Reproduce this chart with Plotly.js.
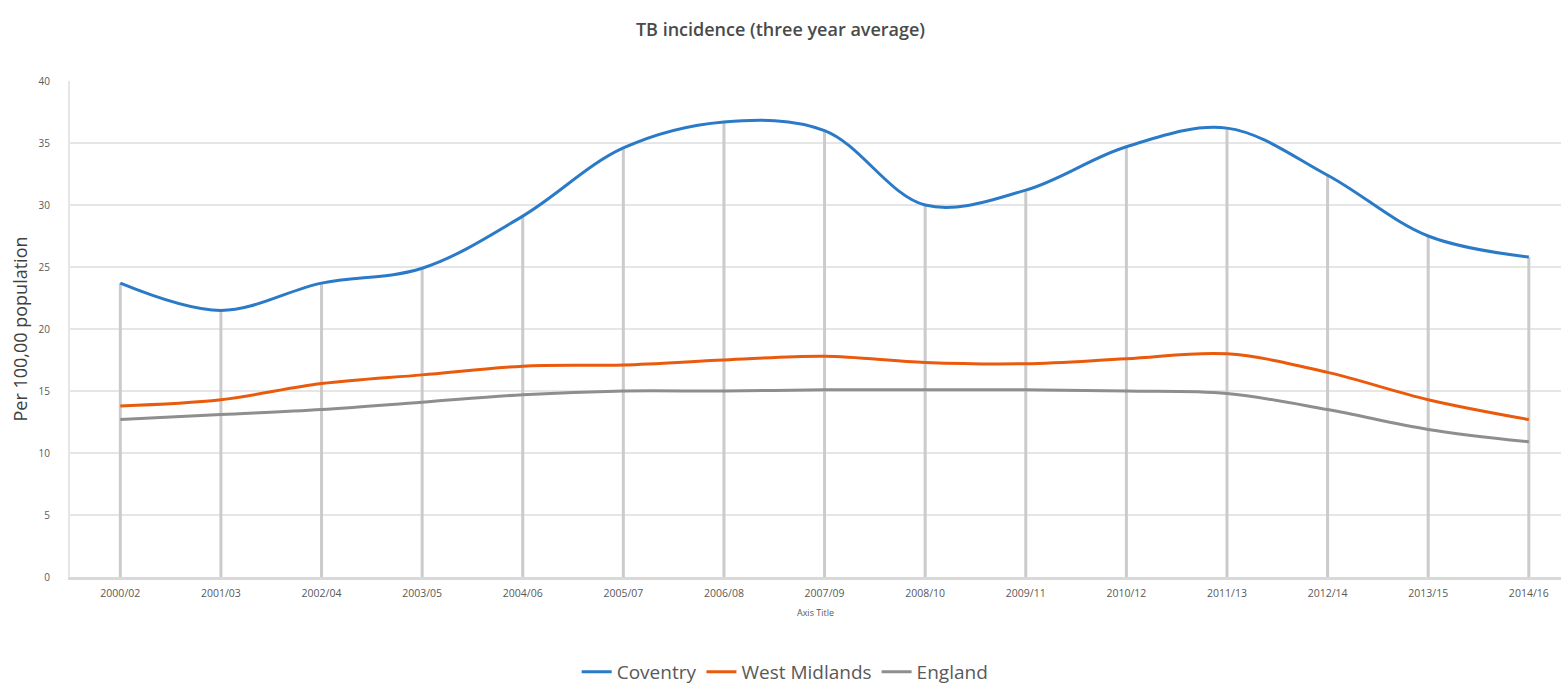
<!DOCTYPE html>
<html>
<head>
<meta charset="utf-8">
<script src="https://cdn.plot.ly/plotly-3.0.1.min.js"></script>
<style>
  html, body { margin: 0; padding: 0; background: #ffffff; }
  #chart { width: 1561px; height: 687px; }
</style>
</head>
<body>
<div id="chart"></div>
<script>
// Three-year rolling periods
const periods = ["2000/02", "2001/03", "2002/04", "2003/05", "2004/06", "2005/07", "2006/08",
                 "2007/09", "2008/10", "2009/11", "2010/12", "2011/13", "2012/14", "2013/15", "2014/16"];

// TB incidence per 100,000 population (three year average)
const coventry      = [23.7, 21.5, 23.7, 24.9, 29.1, 34.6, 36.7, 36.0, 30.0, 31.2, 34.7, 36.2, 32.4, 27.5, 25.8];
const westMidlands  = [13.8, 14.3, 15.6, 16.3, 17.0, 17.1, 17.5, 17.8, 17.3, 17.2, 17.6, 18.0, 16.5, 14.3, 12.7];
const england       = [12.7, 13.1, 13.5, 14.1, 14.7, 15.0, 15.0, 15.1, 15.1, 15.1, 15.0, 14.8, 13.5, 11.9, 10.9];

const yTicks = [0, 5, 10, 15, 20, 25, 30, 35, 40];

const FONT = "Open Sans, Liberation Sans, sans-serif";
const zeros = coventry.map(() => 0);

const traces = [
  // grey drop lines from each Coventry value down to the axis
  {
    x: periods, y: coventry, type: "scatter", mode: "markers",
    marker: { color: "rgba(0,0,0,0)", size: 1 },
    error_y: { type: "data", symmetric: false, array: zeros, arrayminus: coventry,
               color: "#cbcbcb", thickness: 3, width: 0 },
    showlegend: false, hoverinfo: "skip"
  },
  {
    x: periods, y: coventry, name: "Coventry", type: "scatter", mode: "lines",
    line: { color: "#2a7ac8", width: 3, shape: "spline", smoothing: 1 }
  },
  {
    x: periods, y: westMidlands, name: "West Midlands", type: "scatter", mode: "lines",
    line: { color: "#ea5a0c", width: 3, shape: "spline", smoothing: 1 }
  },
  {
    x: periods, y: england, name: "England", type: "scatter", mode: "lines",
    line: { color: "#8e8e8e", width: 3, shape: "spline", smoothing: 1 }
  }
];

const layout = {
  width: 1561, height: 687,
  paper_bgcolor: "#ffffff", plot_bgcolor: "#ffffff",
  margin: { l: 70, r: 0, t: 81, b: 110 },
  font: { family: FONT, color: "#595959" },
  title: {
    text: "TB incidence (three year average)",
    font: { family: FONT, size: 18, color: "#4a4a4a", weight: 600 },
    x: 0.5, xref: "container", xanchor: "center",
    y: 1 - 30 / 687, yref: "container", yanchor: "middle"
  },
  xaxis: {
    type: "category",
    range: [-0.5, 14.32],
    showgrid: false, zeroline: false,
    showline: true, linecolor: "#d9d9d9", linewidth: 3,
    ticks: "",
    tickfont: { family: FONT, size: 10.5, color: "#595959" },
    ticklabelstandoff: 4,
    title: { text: "Axis Title", font: { family: FONT, size: 9, color: "#595959" }, standoff: 12 }
  },
  yaxis: {
    range: [0, 40],
    tickvals: yTicks,
    showgrid: true, gridcolor: "#e6e6e6", gridwidth: 2,
    zeroline: false,
    showline: true, linecolor: "#e6e6e6", linewidth: 2,
    ticks: "",
    tickfont: { family: FONT, size: 10, color: "#595959" },
    ticklabelstandoff: 16,
    title: { text: "Per 100,00 population", font: { family: FONT, size: 18, color: "#404040" }, standoff: 6 }
  },
  showlegend: true,
  legend: {
    orientation: "h",
    x: 0.503, xref: "container", xanchor: "center",
    y: 1 - 672 / 687, yref: "container", yanchor: "middle",
    font: { family: FONT, size: 19, color: "#595959" },
    itemwidth: 30,
    tracegroupgap: 0
  }
};

Plotly.newPlot("chart", traces, layout, { displayModeBar: false, staticPlot: true });
</script>
</body>
</html>
